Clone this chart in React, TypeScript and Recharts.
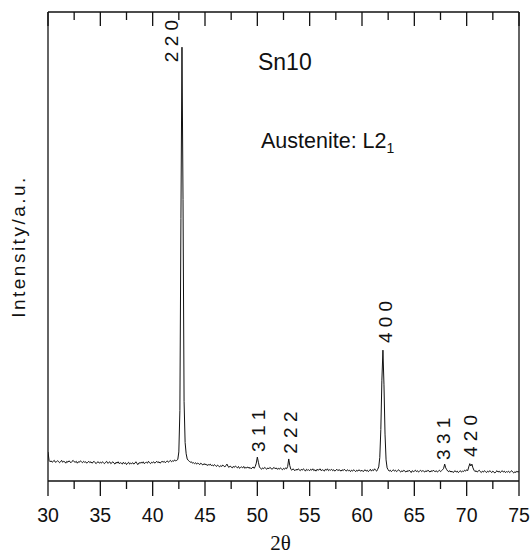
import { Line, LineChart, ReferenceDot, XAxis, YAxis } from "recharts";

// scan starts at 30° and steps by 0.1°
const ANGLE_START = 30;
const ANGLE_STEP = 0.1;

// intensity, one row per degree (30.0 … 74.9), then 75.0
const intensity = [
  62, 44, 41, 43, 40, 42, 44, 40, 41, 43,
  42, 39, 41, 44, 40, 42, 41, 38, 42, 40,
  43, 41, 39, 42, 44, 41, 40, 42, 38, 41,
  40, 43, 41, 39, 42, 40, 41, 38, 40, 42,
  39, 41, 38, 40, 42, 39, 37, 40, 41, 38,
  40, 38, 41, 39, 37, 40, 42, 38, 39, 41,
  37, 39, 41, 38, 36, 40, 38, 41, 37, 39,
  38, 36, 40, 37, 39, 35, 38, 40, 36, 38,
  37, 39, 36, 38, 41, 37, 35, 39, 38, 40,
  38, 41, 37, 39, 40, 38, 42, 39, 37, 40,
  39, 41, 38, 40, 42, 39, 41, 38, 40, 42,
  40, 42, 39, 41, 43, 40, 42, 44, 41, 43,
  42, 45, 43, 44, 46, 62, 150, 560, 925, 600,
  170, 82, 58, 47, 44, 42, 40, 41, 38, 39,
  37, 39, 36, 38, 37, 35, 38, 36, 34, 37,
  35, 36, 33, 35, 34, 36, 33, 34, 32, 35,
  33, 31, 34, 32, 30, 33, 31, 34, 32, 30,
  33, 36, 31, 29, 32, 30, 28, 31, 29, 32,
  30, 28, 31, 27, 29, 30, 28, 31, 27, 29,
  28, 30, 27, 29, 26, 28, 30, 27, 31, 38,
  51, 40, 30, 27, 25, 28, 26, 29, 27, 25,
  28, 26, 29, 27, 25, 27, 29, 26, 28, 25,
  27, 25, 28, 26, 24, 27, 25, 28, 26, 31,
  47, 33, 25, 23, 26, 24, 22, 25, 23, 26,
  24, 22, 25, 23, 26, 24, 21, 25, 23, 24,
  22, 25, 23, 26, 22, 24, 21, 25, 23, 24,
  26, 22, 24, 23, 21, 25, 23, 26, 22, 24,
  23, 25, 22, 24, 21, 23, 25, 22, 24, 23,
  21, 24, 22, 25, 23, 21, 24, 22, 23, 20,
  23, 21, 24, 22, 20, 23, 21, 24, 22, 21,
  23, 20, 22, 24, 21, 23, 20, 22, 25, 21,
  24, 22, 26, 23, 21, 25, 30, 50, 110, 215,
  279, 205, 100, 45, 28, 24, 21, 23, 20, 22,
  24, 21, 23, 20, 22, 24, 21, 19, 22, 20,
  23, 21, 19, 22, 20, 23, 21, 18, 22, 20,
  21, 23, 20, 22, 19, 21, 23, 20, 22, 21,
  19, 22, 20, 23, 21, 19, 22, 20, 23, 21,
  20, 22, 19, 21, 23, 20, 22, 24, 27, 36,
  28, 24, 21, 20, 22, 19, 21, 18, 20, 22,
  19, 21, 18, 20, 22, 19, 21, 20, 23, 21,
  24, 22, 30, 37, 32, 36, 28, 23, 20, 22,
  19, 21, 23, 20, 18, 21, 19, 22, 20, 18,
  21, 19, 22, 20, 18, 21, 19, 17, 20, 22,
  19, 21, 18, 20, 22, 19, 21, 18, 20, 19,
  21, 18, 20, 22, 19, 17, 20, 18, 21, 19,
  20,
];

const angleTicks = [
  30, 32.5, 35, 37.5, 40, 42.5, 45, 47.5, 50, 52.5,
  55, 57.5, 60, 62.5, 65, 67.5, 70, 72.5, 75,
];

// Miller indices, placed by the lower end of the rotated text
const peakLabels = [
  { text: "2 2 0", angle: 42.42, intensity: 893 },
  { text: "3 1 1", angle: 50.73, intensity: 62 },
  { text: "2 2 2", angle: 53.79, intensity: 58 },
  { text: "4 0 0", angle: 62.87, intensity: 294 },
  { text: "3 3 1", angle: 68.41, intensity: 45 },
  { text: "4 2 0", angle: 70.99, intensity: 51 },
];

const data = intensity.map((v, i) => ({
  angle: Math.round((ANGLE_START + i * ANGLE_STEP) * 10) / 10,
  intensity: v,
}));

const Y_MAX = 1000;
const FONT = "'Liberation Sans', Arial, Helvetica, sans-serif";
const INK = "#111";
const FRAME = { stroke: INK, strokeWidth: 1.3 };

const tickLen = (v: number, major: number, minor: number) => (v % 5 === 0 ? major : minor);

// bottom ticks point out of the frame, with numbers under the major ones
function BottomTick({ x, y, payload }: any) {
  const major = payload.value % 5 === 0;
  return (
    <g>
      <line x1={x} x2={x} y1={y} y2={y + tickLen(payload.value, 15, 8)} stroke={INK} strokeWidth={1.3} />
      {major && (
        <text x={x} y={y + 41} textAnchor="middle" fontSize={19.5} fontFamily={FONT} fill={INK}>
          {payload.value}
        </text>
      )}
    </g>
  );
}

// top ticks point down into the plot
function TopTick({ x, y, payload }: any) {
  return (
    <line x1={x} x2={x} y1={y} y2={y + tickLen(payload.value, 14, 8)} stroke={INK} strokeWidth={1.3} />
  );
}

function PeakText({ cx, cy, text }: any) {
  return (
    <text
      x={cx}
      y={cy}
      transform={`rotate(-90 ${cx} ${cy})`}
      fontSize={19}
      fontFamily={FONT}
      fill={INK}
    >
      {text}
    </text>
  );
}

export default function App() {
  return (
    <div style={{ position: "absolute", left: 0, top: 0, background: "#fff" }}>
      <LineChart
        width={530}
        height={555}
        data={data}
        margin={{ top: 11, right: 10, bottom: 0, left: 47 }}
      >
        <XAxis
          dataKey="angle"
          type="number"
          domain={[30, 75]}
          allowDataOverflow
          ticks={angleTicks}
          interval={0}
          height={74}
          tickSize={0}
          tickMargin={0}
          tickLine={false}
          axisLine={FRAME}
          tick={<BottomTick />}
          label={{
            content: ({ viewBox }: any) => (
              <text
                x={viewBox.x + viewBox.width / 2 - 3}
                y={viewBox.y + 69}
                textAnchor="middle"
                fontSize={21}
                fontFamily="'Liberation Serif', 'Times New Roman', serif"
                fill={INK}
              >
                2θ
              </text>
            ),
          }}
        />
        <XAxis
          xAxisId="top"
          dataKey="angle"
          type="number"
          orientation="top"
          domain={[30, 75]}
          allowDataOverflow
          ticks={angleTicks}
          interval={0}
          height={1}
          tickSize={0}
          tickMargin={0}
          tickLine={false}
          axisLine={FRAME}
          tick={<TopTick />}
        />
        <YAxis
          type="number"
          domain={[0, Y_MAX]}
          allowDataOverflow
          width={1}
          tick={false}
          tickLine={false}
          axisLine={FRAME}
          label={{
            content: ({ viewBox }: any) => {
              const lx = viewBox.x + viewBox.width - 23;
              const ly = viewBox.y + viewBox.height / 2;
              return (
                <text
                  x={lx}
                  y={ly}
                  transform={`rotate(-90 ${lx} ${ly})`}
                  textAnchor="middle"
                  fontSize={19}
                  letterSpacing={2.5}
                  fontFamily={FONT}
                  fill={INK}
                >
                  Intensity/a.u.
                </text>
              );
            },
          }}
        />
        <YAxis
          yAxisId="right"
          orientation="right"
          type="number"
          domain={[0, Y_MAX]}
          allowDataOverflow
          width={1}
          tick={false}
          tickLine={false}
          axisLine={FRAME}
        />
        <Line
          type="linear"
          dataKey="intensity"
          stroke={INK}
          strokeWidth={1}
          dot={false}
          isAnimationActive={false}
        />
        {peakLabels.map((p) => (
          <ReferenceDot
            key={p.text}
            x={p.angle}
            y={p.intensity}
            shape={(props: any) => <PeakText {...props} text={p.text} />}
          />
        ))}
        <ReferenceDot
          x={50.06}
          y={876}
          shape={({ cx, cy }: any) => (
            <text x={cx} y={cy} fontSize={23} fontFamily={FONT} fill={INK}>
              Sn10
            </text>
          )}
        />
        <ReferenceDot
          x={50.35}
          y={710}
          shape={({ cx, cy }: any) => (
            <text x={cx} y={cy} fontSize={21.5} fontFamily={FONT} fill={INK}>
              Austenite: L2
              <tspan dy={5} fontSize={14}>
                1
              </tspan>
            </text>
          )}
        />
      </LineChart>
    </div>
  );
}
